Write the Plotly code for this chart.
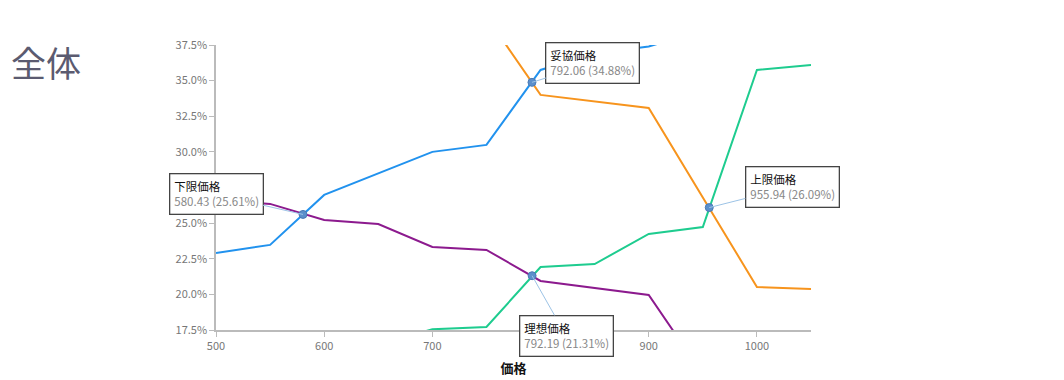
import plotly.graph_objects as go

prices = [500, 550, 600, 650, 700, 750, 800, 850, 900, 950, 1000, 1050]
too_cheap_not = [22.9, 23.47, 26.98, 28.5, 30.0, 30.49, 35.75, 36.9, 37.4, 38.5, 39.0, 40.0]   # blue
too_expensive = [None, None, None, None, 42.0, 39.5, 34.0, 33.55, 33.08, 26.8, 20.52, 20.38]  # orange
cheap = [26.6, 26.35, 25.22, 24.94, 23.33, 23.12, 20.94, 20.45, 19.96, 14.4, None, None]      # purple
expensive = [None, None, None, 16.5, 17.55, 17.71, 21.92, 22.13, 24.24, 24.73, 35.75, 36.1]  # green

point_names = ["下限価格", "妥協価格", "上限価格", "理想価格"]
point_x = [580.43, 792.06, 955.94, 792.19]
point_y = [25.61, 34.88, 26.09, 21.31]

y_ticks = [17.5, 20.0, 22.5, 25.0, 27.5, 30.0, 32.5, 35.0, 37.5]
x_ticks = [500, 600, 700, 800, 900, 1000]

FONT = "Noto Sans CJK JP"

fig = go.Figure()
series = [
    (too_cheap_not, "#2192ee"),
    (too_expensive, "#f7941d"),
    (cheap, "#8c1a8e"),
    (expensive, "#1ecc8f"),
]
for vals, col in series:
    fig.add_trace(go.Scatter(x=prices, y=vals, mode="lines",
                             line=dict(color=col, width=2), connectgaps=False,
                             showlegend=False, hoverinfo="skip"))

fig.add_trace(go.Scatter(x=point_x, y=point_y, mode="markers",
                         marker=dict(size=8, color="#5b8fcb",
                                     line=dict(color="#4a7ab5", width=1)),
                         showlegend=False, hoverinfo="skip"))

offsets = [(-87, -20), (61, -19), (83, -21), (34, 60)]
for name, px, py, (ax, ay) in zip(point_names, point_x, point_y, offsets):
    fig.add_annotation(
        x=px, y=py, ax=ax, ay=ay, xref="x", yref="y",
        text=f"<span style='color:#111'>{name}</span><br>"
             f"<span style='color:#888'>{px:.2f} ({py:.2f}%)</span>",
        showarrow=True, arrowhead=0, arrowwidth=1, arrowcolor="#9cc3e6",
        bordercolor="#444", borderwidth=1.3, borderpad=4, bgcolor="white",
        align="left", font=dict(family=FONT, size=11.5),
    )

L, R, T, B = 208, 254, 37, 51
PW, PH = 595, 285
fig.add_annotation(xref="paper", yref="paper",
                   x=(1 - L) / PW, y=1 + (T - 26) / PH,
                   text="全体", showarrow=False, xanchor="left", yanchor="top",
                   font=dict(family=FONT, size=35, color="#5b5b70"))

fig.update_layout(
    width=L + PW + R, height=T + PH + B,
    margin=dict(l=L, r=R, t=T, b=B),
    plot_bgcolor="white", paper_bgcolor="white",
    font=dict(family=FONT, color="#666"),
)
fig.update_xaxes(range=[500, 1050], tickvals=x_ticks, automargin=False,
                 ticks="outside", ticklen=5, tickcolor="#bbb",
                 showline=True, linecolor="#bbb", linewidth=1.5,
                 showgrid=False, zeroline=False,
                 tickfont=dict(size=11, color="#777"),
                 title=dict(text="<b>価格</b>", font=dict(size=13, color="#111"), standoff=12))
fig.update_yaxes(range=[17.5, 37.5], tickvals=y_ticks, automargin=False,
                 ticktext=[f"{v:.1f}%" for v in y_ticks],
                 ticks="outside", ticklen=5, tickcolor="#bbb",
                 showline=True, linecolor="#bbb", linewidth=1.5,
                 showgrid=False, zeroline=False,
                 tickfont=dict(size=11, color="#777"))

fig.write_html("out.html")
